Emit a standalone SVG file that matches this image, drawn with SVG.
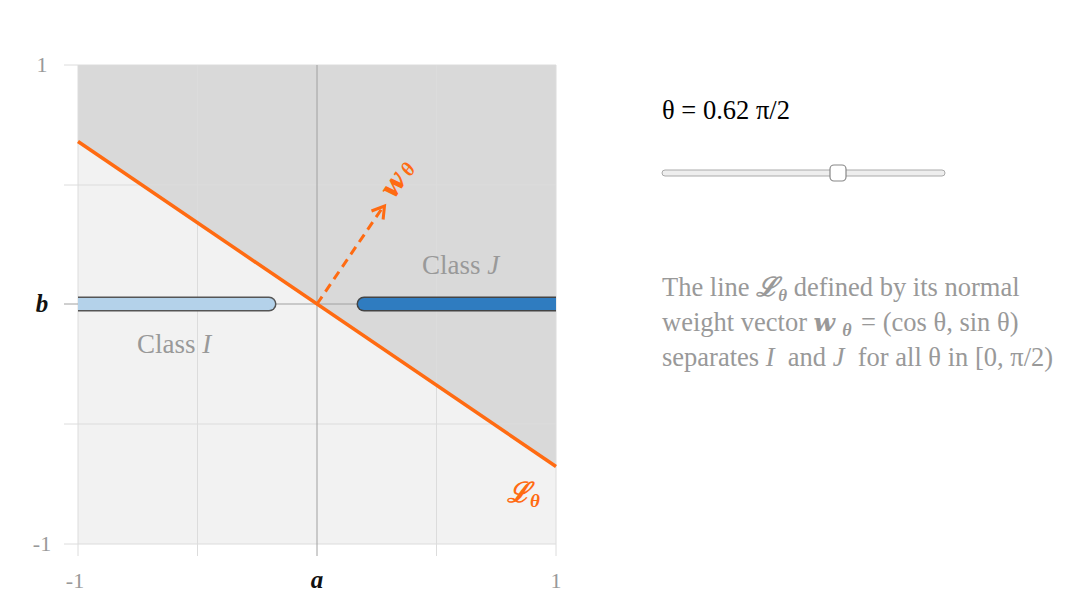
<svg xmlns="http://www.w3.org/2000/svg" width="1080" height="613" viewBox="0 0 1080 613">
<defs>
<style>
.grid{stroke:#dcdcdc;stroke-width:1;fill:none}
.axis{stroke:#a0a0a0;stroke-width:1;fill:none}
.tick{font-family:"Liberation Serif",serif;font-size:22px;fill:#999}
.lab{font-family:"Liberation Serif",serif;font-size:27px;fill:#999}
.txt{font-family:"Liberation Serif",serif;font-size:26.5px;fill:#999}
.bw{font-family:"DejaVu Serif",serif;font-weight:bold;font-style:italic}
.orange{fill:#ff6b12}
</style>
<clipPath id="plot"><rect x="78" y="65" width="478" height="479"/></clipPath>
</defs>
<rect width="1080" height="613" fill="#fff"/>
<g id="plot-area">
<rect x="78" y="65" width="478" height="479" fill="#f2f2f2"/>
<polygon points="78,65 556,65 556,466.5 78,141.5" fill="#d9d9d9"/>
<g class="grid">
<line x1="64" y1="65" x2="556" y2="65"/>
<line x1="64" y1="185" x2="556" y2="185"/>
<line x1="64" y1="424" x2="556" y2="424"/>
<line x1="64" y1="544" x2="556" y2="544"/>
<line x1="78" y1="65" x2="78" y2="556"/>
<line x1="197.5" y1="65" x2="197.5" y2="556"/>
<line x1="436.5" y1="65" x2="436.5" y2="556"/>
<line x1="556" y1="65" x2="556" y2="556"/>
</g>
<g class="axis">
<line x1="64" y1="304" x2="556" y2="304"/>
<line x1="317" y1="65" x2="317" y2="556"/>
</g>
</g>
<g id="class-I">
<g clip-path="url(#plot)">
<line x1="60" y1="304" x2="269" y2="304" stroke="#555" stroke-width="15" stroke-linecap="round"/>
<line x1="60" y1="304" x2="269" y2="304" stroke="#b4d2ea" stroke-width="12" stroke-linecap="round"/>
</g>
<text class="lab" x="137" y="353">Class <tspan font-style="italic">I</tspan></text>
</g>
<g id="class-J">
<g clip-path="url(#plot)">
<line x1="364" y1="304" x2="580" y2="304" stroke="#444" stroke-width="15" stroke-linecap="round"/>
<line x1="364" y1="304" x2="580" y2="304" stroke="#2f7cc0" stroke-width="12" stroke-linecap="round"/>
</g>
<text class="lab" x="422" y="274">Class <tspan font-style="italic">J</tspan></text>
</g>
<g id="connectors">
<line id="line-L" x1="78" y1="141.5" x2="556" y2="466.5" stroke="#ff6b12" stroke-width="3.5"/>
<line id="vector-w" x1="317" y1="304" x2="383" y2="207" stroke="#ff6b12" stroke-width="3" stroke-dasharray="9,6"/>
<path d="M371.5,211 L384.5,206 L383.1,219.5" fill="none" stroke="#ff6b12" stroke-width="3" stroke-linejoin="miter"/>
</g>
<g id="label-w">
<text transform="translate(394,200) rotate(-56)" font-size="28" class="orange"><tspan class="bw">w</tspan><tspan font-family="Liberation Serif,serif" font-weight="bold" font-style="italic" font-size="20" dx="4" dy="1">θ</tspan></text>
</g>
<g id="label-L">
<text x="507" y="502" font-family="Liberation Serif,DejaVu Serif,serif" font-size="28" font-weight="bold" font-style="italic" class="orange">ℒ<tspan font-size="19" dy="5">θ</tspan></text>
</g>
<g id="ticks">
<text class="tick" x="42" y="72" text-anchor="middle">1</text>
<text class="tick" x="42" y="551" text-anchor="middle">-1</text>
<text x="42" y="312" text-anchor="middle" font-family="Liberation Serif,serif" font-size="25" font-style="italic" font-weight="bold" fill="#111">b</text>
<text class="tick" x="75" y="588" text-anchor="middle">-1</text>
<text x="317" y="588" text-anchor="middle" font-family="Liberation Serif,serif" font-size="25" font-style="italic" font-weight="bold" fill="#111">a</text>
<text class="tick" x="556" y="588" text-anchor="middle">1</text>
</g>
<g id="theta-label">
<text x="662" y="119" font-family="Liberation Serif,serif" font-size="26.5" fill="#000">θ = 0.62 π/2</text>
</g>
<g id="slider">
<rect x="662" y="170" width="283" height="6" rx="3" fill="#eeeeee" stroke="#aaa" stroke-width="1"/>
<rect x="830" y="165" width="16" height="16" rx="4" fill="#fff" stroke="#888" stroke-width="1.2"/>
</g>
<g id="description" class="txt">
<text x="662" y="296">The line <tspan font-weight="bold" font-style="italic" font-family="Liberation Serif,DejaVu Serif,serif">ℒ</tspan><tspan font-size="17" font-weight="bold" font-style="italic" dy="5">θ</tspan><tspan dy="-5"> defined by its normal</tspan></text>
<text x="662" y="331">weight vector <tspan class="bw" font-size="25">w</tspan><tspan font-size="18" font-weight="bold" font-style="italic" dy="5" dx="7">θ</tspan><tspan dy="-5" dx="3"> = (cos θ, sin θ)</tspan></text>
<text x="662" y="366" xml:space="preserve">separates <tspan font-style="italic">I</tspan>  and <tspan font-style="italic">J</tspan>  for all θ in [0, π/2)</text>
</g>
</svg>
